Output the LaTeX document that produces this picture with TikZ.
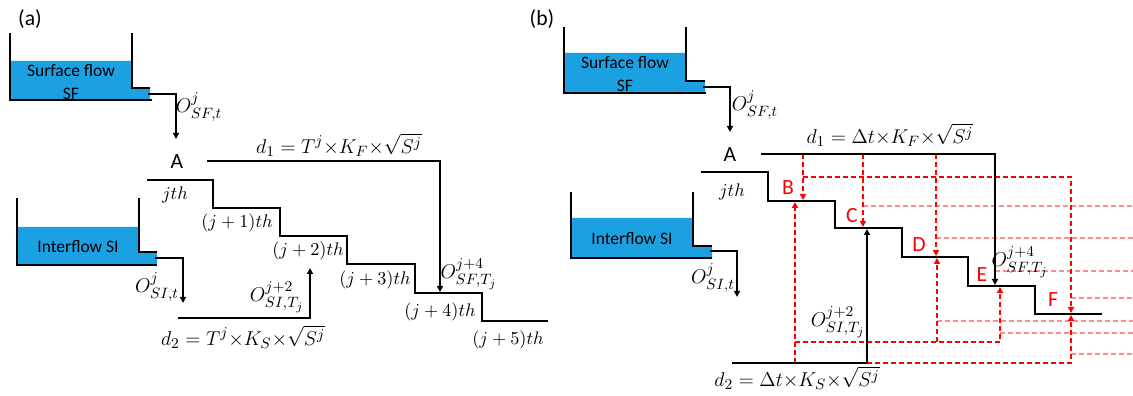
\documentclass[tikz,border=0pt]{standalone}
\usepackage{amsmath,amssymb}
\usepackage{fontspec}
\setmainfont{Carlito}
\usepackage{xcolor}
\usetikzlibrary{arrows.meta,positioning}
\definecolor{water}{RGB}{27,161,226}
\DeclareMathSizes{11.5}{11.5}{8.8}{7}

\begin{document}
\begin{tikzpicture}[x=0.6pt,y=-0.6pt,
		line width=1.1pt,
		flow/.style={-{Triangle[length=3.6pt,width=3.6pt]}},
		redflow/.style={red,dash pattern=on 3pt off 1.8pt,-{Triangle[length=3.6pt,width=3.6pt]}},
		pale/.style={red!45,line width=0.9pt,dash pattern=on 3pt off 1.8pt},
		tag/.style={font=\fontsize{13}{15}\selectfont},
		tank/.style={font=\fontsize{10.5}{12}\selectfont},
		mlabel/.style={font=\fontsize{11.5}{13}\selectfont,inner sep=1pt},
		stepname/.style={font=\fontsize{10.5}{12}\selectfont}
		]
		
		\useasboundingbox (0,0) rectangle (1133,396);
		
		\node[
		font=\fontsize{13}{15}\selectfont
		]
		(pa)
		at (30,19)
		{(a)};
		
		\node[
		font=\fontsize{13}{15}\selectfont
		]
		(pb)
		at (542,19)
		{(b)};
		
		\fill[water] (10,61) -- (132,61) -- (132,88) -- (150,88) -- (150,100) -- (10,100) -- cycle;
		\draw (10,33) -- (10,100) -- (152,100);
		\draw (132,33) -- (132,88) -- (150,88);
		\node[tank] (SFa) at (71,71) {Surface flow};
		\node[tank] (SFa2) at (71,94) {SF};
		
		\fill[water] (17,227) -- (139,227) -- (139,252) -- (157,252) -- (157,265) -- (17,265) -- cycle;
		\draw (17,198) -- (17,265) -- (157,265);
		\draw (139,198) -- (139,252) -- (157,252);
		\node[tank] (SIa) at (78,247) {Interflow SI};
		
		\node[tag] (Aa) at (177,162) {A};
		
		\coordinate (sfa out) at (148,94);
		\coordinate (sfa in) at (176,139);
		\coordinate (sia out) at (155,258);
		\coordinate (sia in) at (183,303);
		\coordinate (d1a) at (207,161);
		\coordinate (d2a) at (178,318);
		\coordinate (Ea) at (440,292);
		\coordinate (Ca) at (310,268);
		
		\draw[flow] (sfa out) -| (sfa in);
		\draw[flow] (sia out) -| (sia in);
		\draw[flow] (d1a) -| (Ea);
		\draw[flow] (d2a) -| (Ca);
		
		\draw (147,180) -- (213,180) -- (213,208) -- (280,208) -- (280,236) -- (347,236) -- (347,264) -- (415,264) -- (415,293) -- (482,293) -- (482,321) -- (548,321);
		
		\node[stepname] (s0a) at (175,195) {$jth$};
		\node[stepname] (s1a) at (237,223) {$(j+1)th$};
		\node[stepname] (s2a) at (308,251) {$(j+2)th$};
		\node[stepname] (s3a) at (375,280) {$(j+3)th$};
		\node[stepname] (s4a) at (440,312) {$(j+4)th$};
		\node[stepname] (s5a) at (508,340) {$(j+5)th$};
		
		\node[mlabel] (Osfa) at (199,107) {$O^{j}_{SF,t}$};
		\node[mlabel] (Osia) at (157,287) {$O^{j}_{SI,t}$};
		\node[mlabel] (O2a) at (277,297) {$O^{j+2}_{SI,T_j}$};
		\node[mlabel] (O4a) at (469,274) {$O^{j+4}_{SF,T_j}$};
		\node[mlabel] (dd1a) at (339,145) {$d_1 = T^j{\times}K_F{\times}\sqrt{S^j}$};
		\node[mlabel] (dd2a) at (243,337) {$d_2 = T^j{\times}K_S{\times}\sqrt{S^j}$};
		
		\fill[water] (564,53) -- (686,53) -- (686,81) -- (705,81) -- (705,93) -- (564,93) -- cycle;
		\draw (564,27) -- (564,93) -- (706,93);
		\draw (686,27) -- (686,81) -- (705,81);
		\node[tank] (SFb) at (625,63) {Surface flow};
		\node[tank] (SFb2) at (625,86) {SF};
		
		\fill[water] (571,218) -- (693,218) -- (693,246) -- (712,246) -- (712,258) -- (571,258) -- cycle;
		\draw (571,192) -- (571,258) -- (712,258);
		\draw (693,192) -- (693,246) -- (712,246);
		\node[tank] (SIb) at (632,239) {Interflow SI};
		
		\node[tag] (Ab) at (730,155) {A};
		
		\draw (701,172) -- (768,172) -- (768,201) -- (835,201) -- (835,228) -- (902,228) -- (902,257) -- (968,257) -- (968,286) -- (1035,286) -- (1035,314) -- (1102,314);
		
		\node[stepname] (s0b) at (732,192) {$jth$};
		
		\node[tag,text=red] (B) at (788,188) {B};
		\node[tag,text=red] (C) at (852,216) {C};
		\node[tag,text=red] (D) at (919,245) {D};
		\node[tag,text=red] (E) at (982,275) {E};
		\node[tag,text=red] (F) at (1053,300) {F};
		
		\coordinate (sfb out) at (703,87);
		\coordinate (sfb in) at (730,132);
		\coordinate (sib out) at (710,251);
		\coordinate (sib in) at (737,297);
		\coordinate (d1b) at (761,154);
		\coordinate (d2b) at (732,363);
		\coordinate (edge) at (1133,0);
		
		\coordinate (B down) at (803,200);
		\coordinate (B up) at (795,202);
		\coordinate (C down) at (863,227);
		\coordinate (C up) at (867,229);
		\coordinate (D down) at (936,256);
		\coordinate (D up) at (937,258);
		\coordinate (E down) at (995,285);
		\coordinate (E up) at (1000,287);
		\coordinate (F down) at (1071,313);
		\coordinate (F up) at (1071,315);
		
		\coordinate (r1) at (803,177);
		\coordinate (r2) at (795,342);
		\coordinate (pC) at (863,206);
		\coordinate (pD) at (936,238);
		\coordinate (pE) at (995,271);
		\coordinate (pF) at (1071,298);
		\coordinate (qD) at (937,321);
		\coordinate (qE) at (1000,333);
		\coordinate (qF) at (1071,354);
		
		\draw[pale] (pC) -- (pC -| edge);
		\draw[pale] (pD) -- (pD -| edge);
		\draw[pale] (pE) -- (pE -| edge);
		\draw[pale] (pF) -- (pF -| edge);
		\draw[pale] (qD) -- (qD -| edge);
		\draw[pale] (qE) -- (qE -| edge);
		\draw[pale] (qF) -- (qF -| edge);
		
		\draw[redflow] (B down |- d1b) -- (B down);
		\draw[redflow] (C down |- d1b) -- (C down);
		\draw[redflow] (D down |- d1b) -- (D down);
		\draw[redflow] (r1) -| (F down);
		\draw[redflow] (B up |- d2b) -- (B up);
		\draw[redflow] (C up |- d2b) -| (F up);
		\draw[redflow] (r2) -| (E up);
		\draw[redflow] (D up |- r2) -- (D up);
		
		\draw[flow] (sfb out) -| (sfb in);
		\draw[flow] (sib out) -| (sib in);
		\draw[flow] (d1b) -| (E down);
		\draw[flow] (d2b) -| (C up);
		
		\node[mlabel] (Osfb) at (755,105) {$O^{j}_{SF,t}$};
		\node[mlabel] (Osib) at (713,278) {$O^{j}_{SI,t}$};
		\node[mlabel] (O2b) at (838,322) {$O^{j+2}_{SI,T_j}$};
		\node[mlabel] (O4b) at (1020,262) {$O^{j+4}_{SF,T_j}$};
		\node[mlabel] (dd1b) at (890,135) {$d_1 = \Delta t{\times}K_F{\times}\sqrt{S^j}$};
		\node[mlabel] (dd2b) at (797,378) {$d_2 = \Delta t{\times}K_S{\times}\sqrt{S^j}$};
		
	\end{tikzpicture}
\end{document}
